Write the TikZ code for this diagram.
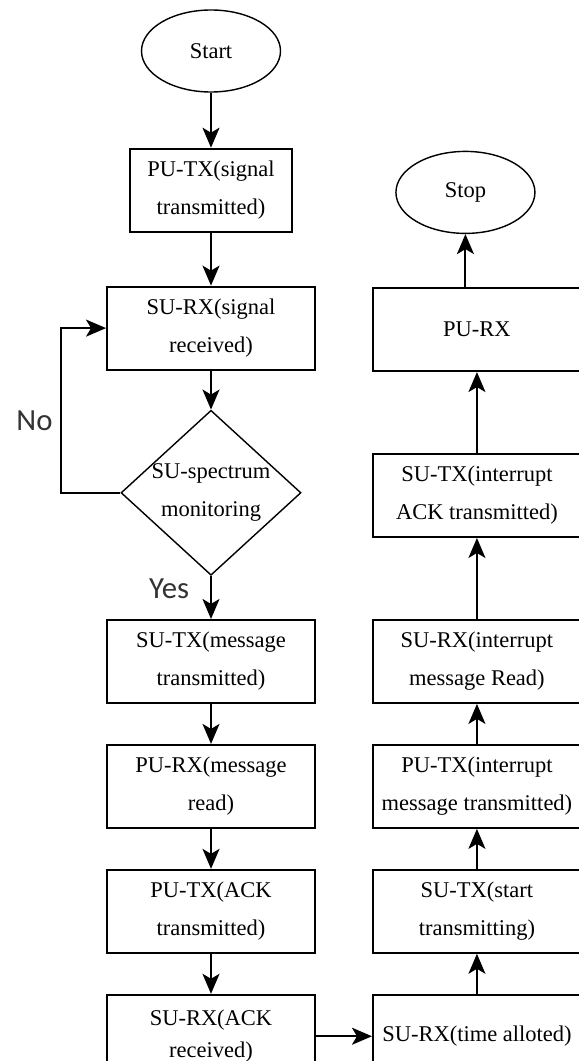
\documentclass[tikz,border=0pt]{standalone}
\usepackage{fontspec}
\setmainfont{Liberation Serif}
\newfontfamily\labelfont{Carlito}
\usetikzlibrary{arrows.meta,positioning,shapes.geometric}

\begin{document}
\begin{tikzpicture}[
        node distance=0.8cm and 1.12cm,
        font=\fontsize{12.8}{21.6}\selectfont,
        paso/.style={draw, line width=1.1pt, align=center, minimum width=4.16cm, minimum height=1.66cm, inner sep=2pt},
        terminal/.style={draw, ellipse, line width=0.8pt, minimum width=2.78cm, minimum height=1.64cm},
        decision/.style={draw, diamond, line width=0.8pt, minimum width=3.6cm, minimum height=3.3cm, inner sep=0pt},
        etiqueta/.style={font=\labelfont\fontsize{17.5}{20}\selectfont, text=black!80},
        flecha/.style={-{Stealth[length=4mm, width=3.4mm, inset=1mm]}, line width=1.1pt}
    ]
        \useasboundingbox (0,0) rectangle (11.58,-21.22);

        % left column
        \node[terminal] (start) at (4.22,-1.02) {Start};
        \node[paso, below=1.1cm of start, minimum width=3.24cm] (pu-tx-signal) {PU-TX(signal\\transmitted)};
        \node[paso, below=1.06cm of pu-tx-signal] (su-rx-signal) {SU-RX(signal\\received)};
        \node[decision, below=0.78cm of su-rx-signal, label={[align=center]center:SU-spectrum\\monitoring}] (monitoring) {};
        \node[paso, below=0.86cm of monitoring] (su-tx-message) {SU-TX(message\\transmitted)};
        \node[paso, below=of su-tx-message] (pu-rx-message) {PU-RX(message\\read)};
        \node[paso, below=of pu-rx-message] (pu-tx-ack) {PU-TX(ACK\\transmitted)};
        \node[paso, below=of pu-tx-ack, font=\fontsize{12.8}{18.5}\selectfont] (su-rx-ack) {SU-RX(ACK\\received)};

        % right column
        \node[paso, right=of su-rx-ack] (su-rx-time) {SU-RX(time alloted)};
        \node[paso, above=of su-rx-time] (su-tx-start) {SU-TX(start\\transmitting)};
        \node[paso, above=of su-tx-start] (pu-tx-interrupt) {PU-TX(interrupt\\message transmitted)};
        \node[paso, above=of pu-tx-interrupt] (su-rx-interrupt) {SU-RX(interrupt\\message Read)};
        \node[paso, above=1.62cm of su-rx-interrupt] (su-tx-interrupt) {SU-TX(interrupt\\ACK transmitted)};
        \node[paso, above=1.62cm of su-tx-interrupt] (pu-rx) {PU-RX};
        \node[terminal, above=1.06cm of pu-rx, xshift=-0.23cm] (stop) {Stop};

        \draw[flecha] (start) -- (pu-tx-signal);
        \draw[flecha] (pu-tx-signal) -- (su-rx-signal);
        \draw[flecha] (su-rx-signal) -- (monitoring);
        \draw[flecha] (monitoring.west) -- ++(-1.18,0) |- (su-rx-signal.west)
            node[etiqueta, left=0.04cm, pos=0.22] {No};
        \draw[flecha] (monitoring) -- (su-tx-message)
            node[etiqueta, left=0.3cm, pos=0.3] {Yes};
        \draw[flecha] (su-tx-message) -- (pu-rx-message);
        \draw[flecha] (pu-rx-message) -- (pu-tx-ack);
        \draw[flecha] (pu-tx-ack) -- (su-rx-ack);
        \draw[flecha] (su-rx-ack) -- (su-rx-time);
        \draw[flecha] (su-rx-time) -- (su-tx-start);
        \draw[flecha] (su-tx-start) -- (pu-tx-interrupt);
        \draw[flecha] (pu-tx-interrupt) -- (su-rx-interrupt);
        \draw[flecha] (su-rx-interrupt) -- (su-tx-interrupt);
        \draw[flecha] (su-tx-interrupt) -- (pu-rx);
        \draw[flecha] (pu-rx.north -| stop.south) -- (stop.south);
    \end{tikzpicture}
\end{document}
